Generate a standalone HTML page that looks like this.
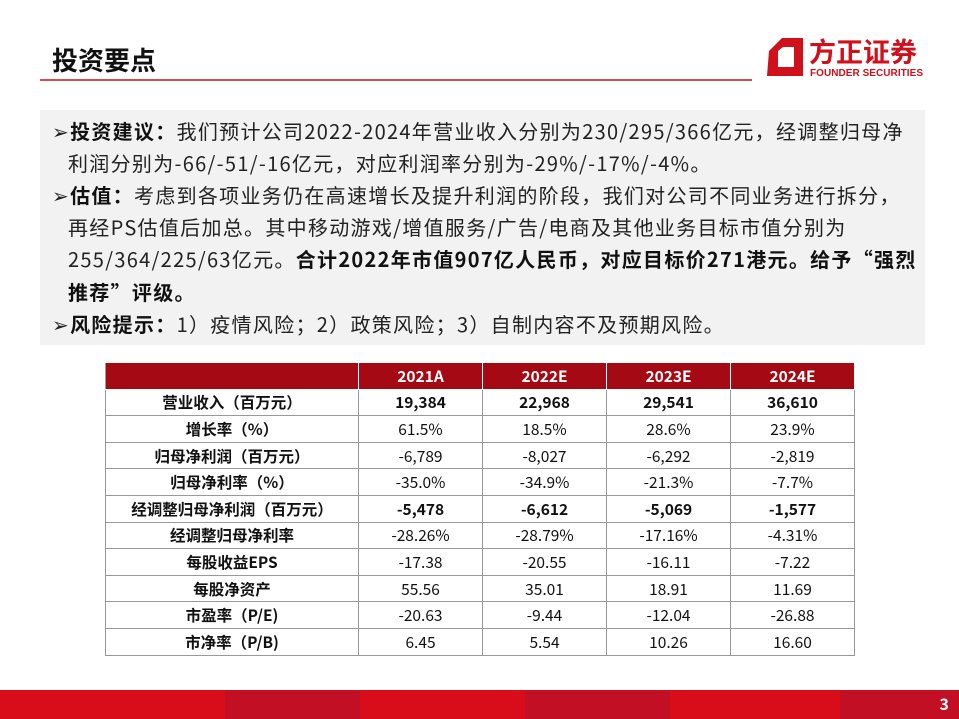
<!DOCTYPE html>
<html><head><meta charset="utf-8">
<style>
body{margin:0;width:959px;height:719px;position:relative;background:#fff;font-family:"Noto Sans CJK SC","Liberation Sans",sans-serif;overflow:hidden}
.title{position:absolute;left:52px;top:43px;font-size:26px;font-weight:bold;color:#111;line-height:34px}
.rule{position:absolute;left:40px;top:79px;width:712px;height:2px;background:#d05050}
.box{position:absolute;left:40px;top:110px;width:885px;height:235px;background:#f2f2f2}
.ln{position:absolute;left:52px;font-size:20px;letter-spacing:1.3px;color:#222;white-space:nowrap;line-height:28px}
.ln b{color:#111}
table{position:absolute;left:105px;top:362px;border-collapse:collapse;font-size:15.5px;color:#111;line-height:20px}
td{border:1px solid #999;height:25.6px;padding:0;text-align:center;width:123px}
td.h{width:252px;font-weight:bold}
tr.hd td{background:#a50a14;color:#fff;font-weight:bold;border-color:#fff}
tr.hd td:first-child{border-left-color:#999}
tr.bd td{font-weight:bold}
.foot{position:absolute;left:0;top:690px;width:959px;height:29px;background:#d90d1a}
.foot i{position:absolute;top:0;height:29px;background:#c30f24}
.pg{position:absolute;right:10px;top:691px;color:#fff;font-weight:bold;font-size:16px}
.logo{position:absolute;left:765px;top:34px}
</style></head><body>
<div class="title">投资要点</div>
<div class="rule"></div>
<div class="logo">
<svg width="170" height="50"><path d="M4 17 L17 4 L38 4 L38 42 L2 42 Z M13 17 L13 33 L29 33 L29 13 L18 13 Z" fill="#d0101b" fill-rule="evenodd"/>
<text x="44" y="28" font-size="27" font-weight="bold" fill="#d0101b" font-family="Noto Sans CJK SC,sans-serif">方正证券</text>
<text x="45" y="42" font-size="10" font-weight="bold" fill="#d0101b" font-family="Liberation Sans,sans-serif" textLength="113">FOUNDER SECURITIES</text></svg></div>
<div class="box"></div>
<div class="ln" style="top:117px">➢<b>投资建议：</b>我们预计公司2022-2024年营业收入分别为230/295/366亿元，经调整归母净</div>
<div class="ln" style="top:149px;left:68px">利润分别为-66/-51/-16亿元，对应利润率分别为-29%/-17%/-4%。</div>
<div class="ln" style="top:181px">➢<b>估值：</b>考虑到各项业务仍在高速增长及提升利润的阶段，我们对公司不同业务进行拆分，</div>
<div class="ln" style="top:213px;left:68px">再经PS估值后加总。其中移动游戏/增值服务/广告/电商及其他业务目标市值分别为</div>
<div class="ln" style="top:245px;left:68px">255/364/225/63亿元。<b>合计2022年市值907亿人民币，对应目标价271港元。给予“强烈</b></div>
<div class="ln" style="top:278px;left:68px"><b>推荐”评级。</b></div>
<div class="ln" style="top:310px">➢<b>风险提示：</b>1）疫情风险；2）政策风险；3）自制内容不及预期风险。</div>
<table>
<tr class="hd"><td class="h"></td><td>2021A</td><td>2022E</td><td>2023E</td><td>2024E</td></tr>
<tr class="bd"><td class="h">营业收入（百万元）</td><td>19,384</td><td>22,968</td><td>29,541</td><td>36,610</td></tr>
<tr><td class="h">增长率（%）</td><td>61.5%</td><td>18.5%</td><td>28.6%</td><td>23.9%</td></tr>
<tr><td class="h">归母净利润（百万元）</td><td>-6,789</td><td>-8,027</td><td>-6,292</td><td>-2,819</td></tr>
<tr><td class="h">归母净利率（%）</td><td>-35.0%</td><td>-34.9%</td><td>-21.3%</td><td>-7.7%</td></tr>
<tr class="bd"><td class="h">经调整归母净利润（百万元）</td><td>-5,478</td><td>-6,612</td><td>-5,069</td><td>-1,577</td></tr>
<tr><td class="h">经调整归母净利率</td><td>-28.26%</td><td>-28.79%</td><td>-17.16%</td><td>-4.31%</td></tr>
<tr><td class="h">每股收益EPS</td><td>-17.38</td><td>-20.55</td><td>-16.11</td><td>-7.22</td></tr>
<tr><td class="h">每股净资产</td><td>55.56</td><td>35.01</td><td>18.91</td><td>11.69</td></tr>
<tr><td class="h">市盈率（P/E)</td><td>-20.63</td><td>-9.44</td><td>-12.04</td><td>-26.88</td></tr>
<tr><td class="h">市净率（P/B)</td><td>6.45</td><td>5.54</td><td>10.26</td><td>16.60</td></tr>
</table>
<div class="foot"><i style="left:225px;width:135px"></i><i style="left:525px;width:145px"></i><i style="left:840px;width:119px"></i></div>
<div class="pg">3</div>
</body></html>
